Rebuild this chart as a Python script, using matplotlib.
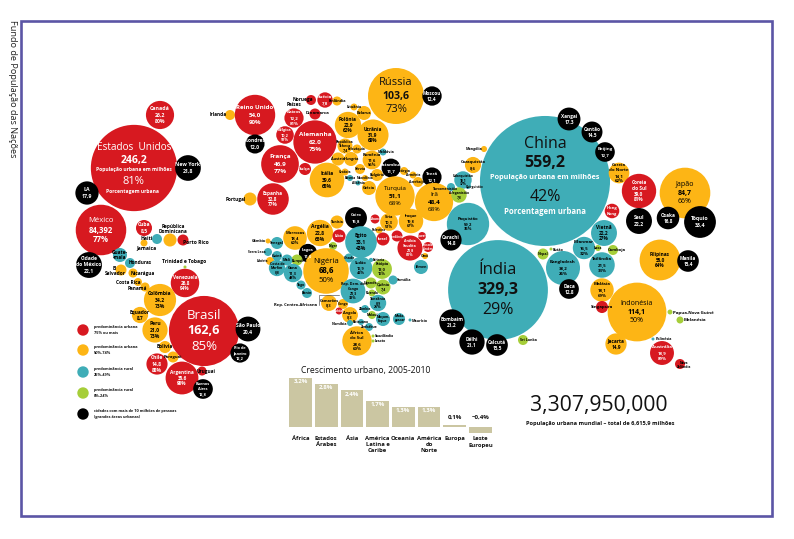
import math
import matplotlib
matplotlib.use("Agg")
import matplotlib.pyplot as plt
from matplotlib.patches import Circle, Rectangle

plt.rcParams['font.family'] = ['Open Sans', 'DejaVu Sans']

# ---------- data ----------
names_americas = ["Estados Unidos","Canadá","New York","LA","México","Cidade do México","Cuba","Haiti","República Dominicana","Porto Rico","Jamaica","Trinidad e Tobago","Guatemala","Honduras","El Salvador","Nicarágua","Costa Rica","Panamá","Venezuela","Colômbia","Brasil","São Paulo","Rio de Janeiro","Equador","Peru","Bolívia","Paraguai","Chile","Argentina","Uruguai","Buenos Aires"]
values_americas = [246.2,26.2,21.8,17.9,84.392,22.1,8.5,3.3,5.6,4.0,1.6,0.3,6.5,3.3,4.0,2.7,2.1,2.7,26.8,34.2,162.6,20.4,12.2,8.7,21.0,4.8,4.0,14.8,35.6,2.7,12.8]
pct_americas = [81,80,None,None,77,None,None,None,None,None,None,None,None,None,None,None,None,None,94,73,85,None,None,None,73,None,None,88,90,None,None]
groups_americas = ["red","red","black","black","red","black","red","teal","gold","red","gold","lime","teal","teal","gold","gold","gold","gold","red","gold","red","black","black","gold","gold","gold","gold","red","red","red","black"]

names_europe = ["Irlanda","Reino Unido","Londres","França","Alemanha","Bélgica","Baixos","Noruega","Suécia","Dinamarca","Finlândia","Suíça","Espanha","Portugal","Itália","Polônia","Ucrânia","Rússia","Moscou","Belarus","Lituânia","República Tcheca","Eslováquia","Áustria","Hungria","Romênia","Moldávia","Croácia","Sérvia","Bósnia","Albânia","Macedônia","Bulgária","Grécia"]
values_europe = [3.3,54.0,12.0,46.9,62.0,10.2,12.2,3.3,7.8,4.0,2.7,4.8,32.8,5.6,39.6,22.9,31.9,103.6,12.4,6.5,1.6,7.4,2.7,5.6,6.5,11.6,1.6,1.6,3.3,1.2,0.8,1.2,4.8,6.5]
pct_europe = [None,90,None,77,75,97,81,None,None,None,None,None,77,None,68,62,68,73,None,None,None,None,None,None,None,56,None,None,None,None,None,None,None,None]
groups_europe = ["gold","red","black","red","red","red","red","red","red","red","gold","red","red","gold","gold","gold","gold","gold","black","gold","gold","gold","gold","gold","gold","gold","teal","gold","gold","teal","teal","gold","gold","gold"]

names_africa = ["Marrocos","Argélia","Tunísia","Líbia","Cairo","Egito","Lagos","Níger","Nigéria","Burquina","Mali","Senegal","Gâmbia","Serra Leoa","Guiné","Libéria","Togo","Benin","Costa do Marfim","Gana","Camarões","Congo","Gabão","Angola","Rep. Dem. do Congo","Chade","Sudão","Eritreia","Etiópia","Somália","Uganda","Quênia","Ruanda","Tanzânia","Zâmbia","Malauí","Moçambique","Madagascar","Maurício","Zimbábue","Botsuana","Namíbia","África do Sul","Suazilândia","Lesoto"]
values_africa = [18.4,22.8,5.6,5.6,15.8,33.1,11.0,2.1,68.6,4.0,4.0,4.8,0.8,2.1,3.3,2.1,2.7,3.3,8.8,11.3,8.3,3.3,1.6,8.3,20.3,2.7,16.9,0.6,13.0,2.7,4.0,7.4,1.6,8.9,2.1,2.1,6.5,4.8,0.3,2.1,1.2,1.2,28.6,0.3,0.3]
pct_africa = [60,65,None,None,None,43,None,None,50,None,None,None,None,None,None,None,None,None,None,48,None,None,None,None,33,None,42,None,16,None,None,None,None,25,None,None,None,None,None,None,None,None,60,None,None]
groups_africa = ["gold","gold","gold","red","black","teal","black","lime","gold","lime","teal","teal","gold","teal","teal","gold","teal","teal","teal","teal","gold","gold","red","gold","teal","teal","teal","teal","lime","teal","lime","lime","lime","teal","teal","lime","teal","teal","teal","teal","teal","teal","gold","lime","lime"]

names_midasia = ["Istambul","Geórgia","Armênia","Azerbaijão","Turquia","Teerã","Irã","Síria","Líbano","Palestina","Israel","Jordânia","Iraque","Arábia Saudita","Kuwait","Emirados Árabes","Omã","Iêmen","Uzbequistão","Turcomenistão","Quirguistão","Afeganistão","Cazaquistão","Mongólia","Paquistão","Carachi"]
values_midasia = [11.7,2.1,1.6,3.3,51.1,12.1,48.4,10.3,2.7,1.6,5.6,4.0,19.8,20.8,2.1,3.3,1.2,6.5,10.1,2.1,1.2,7.8,8.6,1.2,59.2,14.8]
pct_midasia = [None,None,None,None,68,None,68,51,None,None,None,None,67,81,None,None,None,None,37,None,None,None,None,None,35,None]
groups_midasia = ["black","gold","gold","gold","gold","black","gold","gold","red","gold","red","red","gold","red","red","red","gold","teal","teal","teal","teal","lime","gold","gold","teal","black"]

names_asia = ["China","Xangai","Cantão","Beijing","Coreia do Norte","Coreia do Sul","Hong Kong","Japão","Seul","Osaka","Tóquio","Filipinas","Manila","Vietnã","Mianmar","Laos","Camboja","Tailândia","Bangladesh","Daca","Nepal","Butão","Índia","Bombaim","Délhi","Calcutá","Sri Lanka","Malásia","Singapura","Indonésia","Papua-Nova Guiné","Melanésia","Jacarta","Polinésia","Austrália","Nova Zelândia"]
values_asia = [559.2,17.3,14.5,12.7,14.1,39.0,7.0,84.7,22.2,16.8,33.4,55.0,15.4,22.2,16.5,1.2,3.3,21.5,38.2,12.8,4.0,0.3,329.3,21.2,21.1,15.5,3.3,18.1,4.8,114.1,0.8,1.6,14.9,0.3,18.9,3.3]
pct_asia = [42,None,None,None,62,81,None,66,None,None,None,64,None,27,32,None,None,33,26,None,None,None,29,None,None,None,None,69,None,50,None,None,None,None,89,None]
groups_asia = ["teal","black","black","black","gold","red","red","gold","black","black","black","gold","black","teal","teal","lime","lime","teal","teal","black","lime","lime","teal","black","black","black","lime","gold","red","gold","lime","lime","gold","teal","red","red"]

growth_regions = ["África","Estados\nÁrabes","Ásia","América\nLatina e\nCaribe","Oceania","América\ndo\nNorte","Europa","Leste\nEuropeu"]
growth_values = [3.2,2.8,2.4,1.7,1.3,1.3,0.1,-0.4]

legend_labels = ["predominância urbana\n75% ou mais","predominância urbana\n50%-74%","predominância rural\n25%-49%","predominância rural\n0%-24%","cidades com mais de 10 milhões de pessoas\n(grandes áreas urbanas)"]
legend_groups = ["red","gold","teal","lime","black"]

world_total = "3,307,950,000"
world_note = "População urbana mundial – total de 6,615,9 milhões"
main_title = "Fundo de População das Nações"
bar_title = "Crescimento urbano, 2005-2010"

# ---------- style and layout ----------
COL = {"red":"#d71920","gold":"#fdb515","teal":"#3fadb7","lime":"#a6ce39","black":"#000000"}
BAR = "#cbc6a2"
FRAME = "#5b55a5"
K = 2.75

def L(x, y, fs=3.6, v=True, lab=None, ha="center", txt=None):
    return dict(x=x, y=y, fs=fs, v=v, lab=lab, ha=ha, txt=txt)

layout = {
 # Americas
 "Estados Unidos":L(134,168),"Canadá":L(160,115,3.8),"New York":L(188,168,3.8),"LA":L(87,193,3.8),
 "México":L(101,230,5.6),"Cidade do México":L(89,265,3.6,txt="Cidade\ndo México"),"Cuba":L(144,228,3.6),
 "Haiti":L(157,239,3.6,False,(153,239),"right"),"República Dominicana":L(170,240,3.4,False,(173,229),txt="República\nDominicana"),
 "Porto Rico":L(183,240,3.6,False,(183,243),"left"),"Jamaica":L(144,243,3.6,False,(146,248)),
 "Trinidad e Tobago":L(185,267,3.6,False,(184,261)),"Guatemala":L(120,255,3.4,False,(120,255),txt="Guate-\n-mala"),
 "Honduras":L(130,263,3.4,False,(129,263),"left"),"El Salvador":L(121,270,3.4,False,(115,271),txt="El\nSalvador"),
 "Nicarágua":L(133,273,3.4,False,(131,273),"left"),"Costa Rica":L(138,282,3.4,False,(140,282),"right"),
 "Panamá":L(145,287,3.4,False,(147,288),"right"),"Venezuela":L(185,283,3.4),"Colômbia":L(160,300,3.6),
 "Brasil":L(204,331),"São Paulo":L(248,329,3.6),"Rio de Janeiro":L(240,353,2.8,txt="Rio de\nJaneiro"),
 "Equador":L(140,315,3.4),"Peru":L(155,330,3.6),"Bolívia":L(165,347,3.4,False),"Paraguai":L(173,357,3.0,False),
 "Chile":L(157,364,3.6),"Argentina":L(182,378,3.4),"Uruguai":L(202,371,3.4,False,(197,371),"left"),
 "Buenos Aires":L(203,389,2.8,txt="Buenos\nAires"),
 # Europe
 "Irlanda":L(230,115,3.4,False,(227,115),"right"),"Reino Unido":L(255,115,4.4),"Londres":L(255,144,3.6),
 "França":L(280,164,4.6),"Alemanha":L(315,142,4.6),"Bélgica":L(285,135,2.8),"Baixos":L(294,118,3.2),
 "Noruega":L(311,100,3.4,False,(313,99),"right"),"Suécia":L(325,100,3.2),"Dinamarca":L(315,114,3.2,False,(317,113)),
 "Finlândia":L(337,101,2.8,False),"Suíça":L(305,169,3.2,False),"Espanha":L(273,199,3.4),
 "Portugal":L(250,199,3.4,False,(246,199),"right"),"Itália":L(327,180,3.6),"Polônia":L(348,125,3.4),
 "Ucrânia":L(373,135,3.4),"Rússia":L(396,96),"Moscou":L(432,96,3.4),"Belarus":L(364,113,2.8,False),
 "Lituânia":L(354,107,2.6,False),"República Tcheca":L(345,146,2.6,txt="República\nTcheca"),
 "Eslováquia":L(357,149,2.4,False),"Áustria":L(338,159,2.8,False),"Hungria":L(351,159,2.8,False),
 "Romênia":L(372,160,3.0),"Moldávia":L(383,152,2.6,False,(386,152)),"Croácia":L(345,172,2.4,False),
 "Sérvia":L(360,169,2.6,False),"Bósnia":L(350,178,2.4,False),"Albânia":L(358,183,2.4,False),
 "Macedônia":L(365,178,2.2,False),"Bulgária":L(377,175,2.6,False),"Grécia":L(369,188,2.8,False),
 # Africa
 "Marrocos":L(295,238,3.0),"Argélia":L(320,233,3.6),"Tunísia":L(337,222,2.6,False),"Líbia":L(339,236,2.8,False),
 "Cairo":L(356,218,3.0),"Egito":L(361,242,3.6),"Lagos":L(308,253,3.0),"Níger":L(333,246,2.4,False),
 "Nigéria":L(326,271,5.6),"Burquina":L(297,260,2.4,False,(300,261)),"Mali":L(287,260,2.6,False),"Senegal":L(277,243,2.6,False),
 "Gâmbia":L(268,241,2.6,False,(266,241),"right"),"Serra Leoa":L(268,252,2.4,False,(266,252),"right"),
 "Guiné":L(277,256,2.6,False),"Libéria":L(270,261,2.4,False,(268,261),"right"),"Togo":L(301,285,2.6,False),
 "Benin":L(307,293,2.6,False),"Costa do Marfim":L(277,268,2.4,txt="Costa do\nMarfim"),"Gana":L(293,273,2.8),
 "Camarões":L(329,303,2.8),"Congo":L(343,304,2.4,False),"Gabão":L(339,311,2.2,False),"Angola":L(350,315,2.8),
 "Rep. Dem. do Congo":L(353,291,2.6,txt="Rep. Dem. do\nCongo"),"Chade":L(349,258,2.6,False),"Sudão":L(361,268,2.8),
 "Eritreia":L(371,260,2.4,False,(373,260),"left"),"Etiópia":L(382,269,2.8),"Somália":L(393,280,2.6,False,(397,280),"left"),
 "Uganda":L(371,283,2.6,False),"Quênia":L(383,287,2.6),"Ruanda":L(372,293,2.4,False),
 "Tanzânia":L(378,303,2.6),"Zâmbia":L(365,309,2.4,False),"Malauí":L(372,315,2.4,False),
 "Moçambique":L(383,319,2.4,False,txt="Moçam-\nbique"),"Madagascar":L(399,319,2.4,False,(400,318),"center",txt="Mada-\ngascar"),
 "Maurício":L(410,320,2.6,False,(412,321),"left"),"Zimbábue":L(369,327,2.4,False),"Botsuana":L(361,322,2.4,False),
 "Namíbia":L(350,323,2.6,False,(347,324),"right"),"África do Sul":L(357,341,3.2,txt="África\ndo Sul"),
 "Suazilândia":L(373,336,2.4,False,(375,336),"left"),"Lesoto":L(373,341,2.4,False,(375,341),"left"),
 # Middle East / central Asia
 "Istambul":L(391,168,3.2),"Geórgia":L(404,171,2.6,False),"Armênia":L(413,175,2.4,False),"Azerbaijão":L(418,182,2.4,False),
 "Turquia":L(395,196,4.6),"Teerã":L(432,177,3.2),"Irã":L(434,202,4.6),"Síria":L(389,222,2.8),"Líbano":L(375,219,2.4,False),
 "Palestina":L(379,230,2.2,False),"Israel":L(383,239,2.6,False),"Jordânia":L(397,236,2.2,False),"Iraque":L(411,221,2.8),
 "Arábia Saudita":L(410,248,2.6,txt="Arábia\nSaudita"),"Kuwait":L(422,236,2.2,False),
 "Emirados Árabes":L(428,247,2.0,False,txt="Emirados\nÁrabes"),"Omã":L(425,256,2.4,False),"Iêmen":L(421,267,2.6,False),
 "Uzbequistão":L(463,180,2.4),"Turcomenistão":L(451,187,2.4,False,(445,189)),"Quirguistão":L(468,186,2.2,False,(475,187)),
 "Afeganistão":L(459,195,2.4),"Cazaquistão":L(473,165,3.0),"Mongólia":L(484,149,2.6,False,(482,149),"right"),
 "Paquistão":L(468,224,3.0),"Carachi":L(451,240,3.4),
 # Asia and Oceania
 "China":L(545,181),"Xangai":L(569,119,3.4),"Cantão":L(592,132,3.4),"Beijing":L(605,152,3.2),
 "Coreia do Norte":L(619,173,3.2,txt="Coreia\ndo Norte"),"Coreia do Sul":L(639,191,3.4,txt="Coreia\ndo Sul"),
 "Hong Kong":L(612,211,3.0,False,txt="Hong\nKong"),"Japão":L(685,193,5.0),"Seul":L(639,221,3.6),"Osaka":L(668,218,3.4),
 "Tóquio":L(700,222,3.8),"Filipinas":L(660,260,3.4),"Manila":L(688,261,3.4),"Vietnã":L(604,233,3.4),
 "Mianmar":L(584,248,3.2),"Laos":L(598,248,2.6,False),"Camboja":L(613,250,3.0,False,(608,250),"left"),
 "Tailândia":L(602,265,3.2),"Bangladesh":L(563,268,3.2),"Daca":L(569,289,3.4),"Nepal":L(543,254,2.6,False),
 "Butão":L(551,249,2.6,False,(553,250),"left"),"Índia":L(498,290),"Bombaim":L(452,322,3.4),"Délhi":L(472,342,3.4),
 "Calcutá":L(497,345,3.4),"Sri Lanka":L(523,340,2.6,False,(528,340)),"Malásia":L(602,290,3.2),
 "Singapura":L(602,307,3.2,False,(602,307)),"Indonésia":L(637,312,5.0),"Papua-Nova Guiné":L(670,312,3.2,False,(673,313),"left"),
 "Melanésia":L(680,320,3.2,False,(684,320),"left"),"Jacarta":L(616,344,3.4),"Polinésia":L(653,339,2.6,False,(656,339),"left"),
 "Austrália":L(662,353,3.2),"Nova Zelândia":L(680,364,2.4,False,(684,365),"center",txt="Nova\nZelândia"),
}

# name size, value size, pct size of the largest bubbles
big = {"Estados Unidos":(7.2,7.6,8.0),"China":(11.5,11.5,11.5),"Índia":(12.0,11.5,11.5),"Brasil":(9.5,9.0,9.5),
       "Rússia":(8.0,7.6,8.0),"México":(5.6,5.6,5.6)}
light_names = {"México","Japão","Nigéria","Turquia","Irã","Indonésia"}

fig = plt.figure(figsize=(7.94, 5.39), dpi=100)
ax = fig.add_axes([0, 0, 1, 1])
ax.set_xlim(0, 794)
ax.set_ylim(539, 0)
ax.axis("off")

ax.add_patch(Rectangle((21, 21), 751, 495, fill=False, ec=FRAME, lw=1.9))
ax.text(12, 20, main_title, rotation=-90, ha="center", va="top", fontsize=6.6, color="#222222")

all_names = names_americas + names_europe + names_africa + names_midasia + names_asia
all_values = values_americas + values_europe + values_africa + values_midasia + values_asia
all_pct = pct_americas + pct_europe + pct_africa + pct_midasia + pct_asia
all_groups = groups_americas + groups_europe + groups_africa + groups_midasia + groups_asia

def fmt(name, v):
    return "84,392" if name == "México" else f"{v:.1f}".replace(".", ",")

def stack(x, y, rows, ha="center"):
    """rows: (text, size, bold, colour); stacked and centred on y."""
    pitches = [s * 1.72 for _, s, _, _ in rows]
    total = sum(pitches)
    cur = y - total / 2
    for (t, s, b, c), p in zip(rows, pitches):
        ax.text(x, cur + p / 2, t, fontsize=s, fontweight="bold" if b else "normal",
                color=c, ha=ha, va="center", zorder=5)
        cur += p

for name, val, grp in zip(all_names, all_values, all_groups):
    p = layout[name]
    ax.add_patch(Circle((p["x"], p["y"]), K * math.sqrt(val), fc=COL[grp], ec="none", zorder=2))

for name, val, pct, grp in zip(all_names, all_values, all_pct, all_groups):
    p = layout[name]
    col = "#ffffff" if grp in ("red", "black") else "#000000"
    if p["lab"] is not None:
        col = "#000000"
    if name in big:
        fn, fv, fp = big[name]
        if name == "Estados Unidos":
            stack(p["x"], p["y"] - 11, [("Estados  Unidos", fn, False, "#fff"), (fmt(name, val), fv, True, "#fff"),
                                        ("População urbana em milhões", 3.6, True, "#fff")])
            stack(p["x"] - 1, p["y"] + 17, [(f"{pct}%", fp, False, "#fff"), ("Porcentagem urbana", 3.6, True, "#fff")])
        elif name == "China":
            stack(p["x"], p["y"] - 23, [(name, fn, False, "#111"), (fmt(name, val), fv, True, "#111"),
                                        ("População urbana em milhões", 5.2, True, "#fff")])
            stack(p["x"], p["y"] + 21, [(f"{pct}%", fp, False, "#111"), ("Porcentagem urbana", 5.6, True, "#fff")])
        else:
            c = "#fff" if grp == "red" else "#111"
            bold = name == "México"
            stack(p["x"], p["y"], [(name, fn, False, c), (fmt(name, val), fv, True, c), (f"{pct}%", fp, bold, c)])
        continue
    lab = p["txt"] or name
    light = name in light_names
    rows = [(t, p["fs"], not light, col) for t in lab.split("\n")]
    if p["v"]:
        rows.append((fmt(name, val), p["fs"], True, col))
    if pct is not None:
        rows.append((f"{pct}%", p["fs"], not light, col))
    x, y = p["lab"] if p["lab"] is not None else (p["x"], p["y"])
    stack(x, y, rows, p["ha"])

# extra word of "Países Baixos" that sits outside its bubble
ax.text(294, 105, "Países", fontsize=3.4, fontweight="bold", ha="center", va="center", color="#000", zorder=5)
# Rep. Centro-Africana leader
ax.plot([319, 319, 339], [305, 295, 295], color="#333333", lw=0.4, zorder=4)
ax.text(317, 305, "Rep. Centro-Africana", fontsize=3.0, fontweight="bold", ha="right", va="center", color="#000", zorder=5)

# legend
for i, (lab, grp) in enumerate(zip(legend_labels, legend_groups)):
    yy = [330, 350, 372, 393, 414][i]
    ax.add_patch(Circle((83, yy), 5.7, fc=COL[grp], ec="none"))
    ax.text(94, yy, lab, fontsize=2.8, fontweight="bold", ha="left", va="center", linespacing=1.5, color="#111")

# world total
ax.text(599, 406, world_total, fontsize=15.2, ha="center", va="center", color="#111")
ax.text(600, 423, world_note, fontsize=4.1, fontweight="bold", ha="center", va="center", color="#111")

# growth bars
STEP, SCALE = 25.7, 15.3
bx0 = 300.5 - STEP / 2
by_top = 427 - 3.4 * SCALE
by_bot = 427 + 1.0 * SCALE
bar_ax = fig.add_axes([bx0 / 794, 1 - by_bot / 539, 8 * STEP / 794, (by_bot - by_top) / 539])
bar_ax.set_xlim(-0.5, 7.5)
bar_ax.set_ylim(-1.0, 3.4)
bar_ax.axis("off")
bar_ax.bar(range(8), growth_values, width=0.88, color=BAR)
for i, (reg, v) in enumerate(zip(growth_regions, growth_values)):
    txt = f"{abs(v):.1f}%".replace(".", ",")
    if v < 0:
        txt = "−" + txt
    if v >= 1:
        bar_ax.text(i, v - 0.07, txt, fontsize=4.4, fontweight="bold", color="#fff", ha="center", va="top")
    else:
        bar_ax.text(i, 0.62, txt, fontsize=4.4, fontweight="bold", color="#111", ha="center", va="center")
    bar_ax.text(i, -0.58 if v >= 0 else -0.62, reg, fontsize=4.2, fontweight="bold", color="#111", ha="center", va="top", linespacing=1.3)
ax.text(301, 370, bar_title, fontsize=6.2, ha="left", va="center", color="#111")

fig.savefig("out.png", dpi=100)
